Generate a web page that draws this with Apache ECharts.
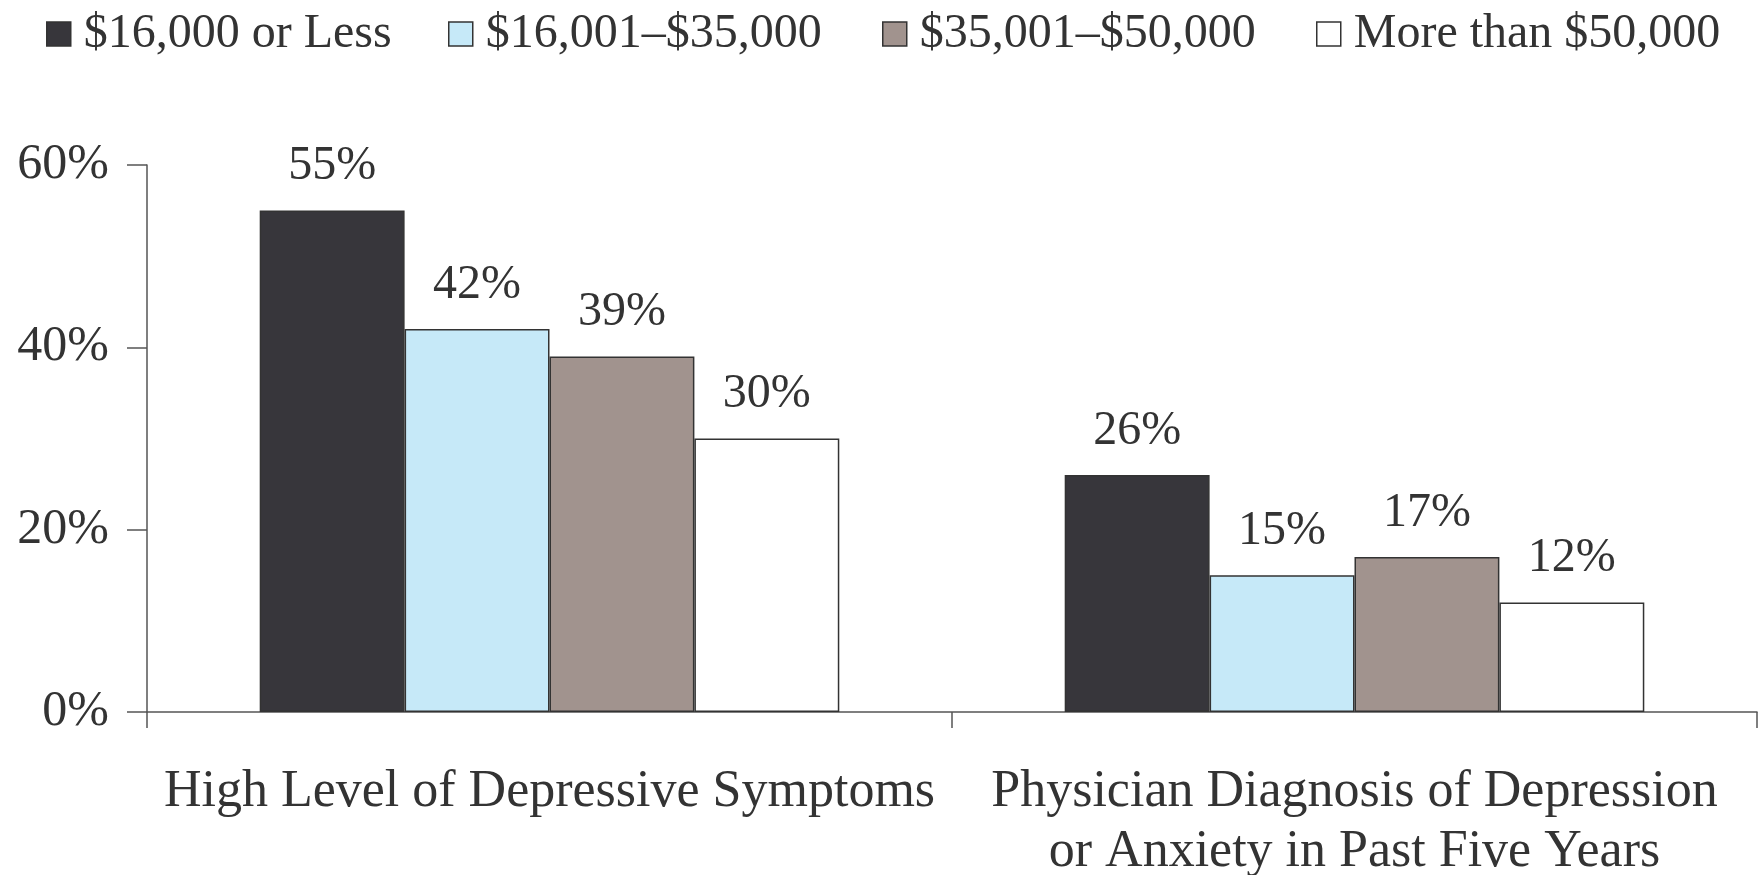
<!DOCTYPE html>
<html>
<head>
<meta charset="utf-8">
<script src="https://cdn.jsdelivr.net/npm/echarts@6/dist/echarts.min.js"></script>
<style>
html,body{margin:0;padding:0;background:#fff;}
#chart{width:1760px;height:875px;}
</style>
</head>
<body>
<div id="chart"></div>
<script>
const categories = ['High Level of Depressive Symptoms', 'Physician Diagnosis of Depression\nor Anxiety in Past Five Years'];
const seriesNames = ['$16,000 or Less', '$16,001\u2013$35,000', '$35,001\u2013$50,000', 'More than $50,000'];
const income16kOrLess = [55, 26];
const income16to35k = [42, 15];
const income35to50k = [39, 17];
const incomeOver50k = [30, 12];
const yTicks = [0, 20, 40, 60];

const seriesValues = [income16kOrLess, income16to35k, income35to50k, incomeOver50k];
const colors = ['#37363b', '#c6e9f8', '#a1938e', '#ffffff'];
const legendLeft = [41, 443, 877, 1311];
const FONT = '"Liberation Serif", "Times New Roman", serif';
const TEXT = '#333333';

const chart = echarts.init(document.getElementById('chart'));
chart.setOption({
  animation: false,
  backgroundColor: '#ffffff',
  textStyle: { fontFamily: FONT, color: TEXT },
  legend: seriesNames.map((n, i) => ({
    data: [n],
    left: legendLeft[i],
    top: 5,
    icon: 'rect',
    itemWidth: 24,
    itemHeight: 24,
    itemStyle: { borderColor: '#333333', borderWidth: 1.5 },
    textStyle: { fontFamily: FONT, fontSize: 48, color: TEXT, padding: [0, 0, 0, 8] },
    selectedMode: false
  })),
  grid: { left: 147, right: 3, top: 165, bottom: 163, containLabel: false, outerBoundsMode: 'none' },
  xAxis: {
    type: 'category',
    data: categories,
    axisLine: { lineStyle: { color: '#555555', width: 1.5 } },
    axisTick: { show: true, length: 16, lineStyle: { color: '#555555', width: 1.5 } },
    axisLabel: { fontFamily: FONT, fontSize: 52, color: TEXT, margin: 50, lineHeight: 60, interval: 0 }
  },
  yAxis: {
    type: 'value',
    min: yTicks[0],
    max: yTicks[yTicks.length - 1],
    interval: 20,
    splitLine: { show: false },
    axisLine: { show: true, lineStyle: { color: '#555555', width: 1.5 } },
    axisTick: { show: true, length: 20, lineStyle: { color: '#555555', width: 1.5 } },
    axisLabel: { fontFamily: FONT, fontSize: 50, color: TEXT, margin: 38, formatter: v => v + '%' }
  },
  series: seriesNames.map((n, i) => ({
    name: n,
    type: 'bar',
    data: seriesValues[i],
    barGap: '0%',
    barCategoryGap: '28%',
    itemStyle: { color: colors[i], borderColor: '#333333', borderWidth: 1.5 },
    label: {
      show: true,
      position: 'top',
      distance: 20,
      fontFamily: FONT,
      fontSize: 48,
      color: TEXT,
      formatter: p => p.value + '%'
    }
  }))
});
</script>
</body>
</html>
